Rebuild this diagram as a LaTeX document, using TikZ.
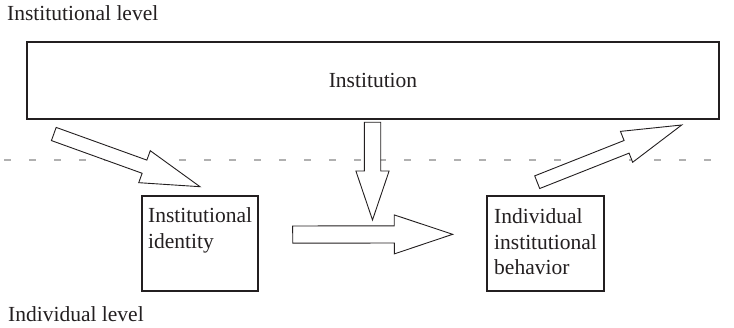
\documentclass[tikz,border=0pt]{standalone}
\usepackage{fontspec}
\setmainfont{Liberation Serif}
\usetikzlibrary{calc}
\definecolor{ink}{HTML}{231F20}
\definecolor{dashgray}{HTML}{B0B0B0}
\tikzset{
  boxstyle/.style={draw=ink, line width=1.1pt, fill=white, inner sep=0pt},
  txt/.style={text=ink, inner sep=0pt, font=\fontsize{21.5}{25.5}\selectfont},
  blockarrowstyle/.style={draw=ink, line width=0.9pt, fill=white, line join=miter},
  levelline/.style={draw=dashgray, line width=1.2pt, dash pattern=on 7pt off 18pt}
}
\newcommand\bkarrow[5]{%
  \coordinate (bkH) at ($(#2)!#5!(#1)$);
  \draw[blockarrowstyle] ($(#1)!#3!90:(#2)$) -- ($(bkH)!#3!90:(#2)$) -- ($(bkH)!#4!90:(#2)$) -- (#2) -- ($(bkH)!#4!-90:(#2)$) -- ($(bkH)!#3!-90:(#2)$) -- ($(#1)!#3!-90:(#2)$) -- cycle;}
\begin{document}
\begin{tikzpicture}[x=1pt,y=-1pt]
\useasboundingbox (0,0) rectangle (734,328);
% level labels
\node[txt, anchor=base west] (toplabel) at (7,21) {Institutional level};
\node[txt, anchor=base west] (botlabel) at (8,322) {Individual level};
% dashed level separator
\coordinate (dl) at (4,160);
\coordinate (dr) at (717,160);
\path[levelline] (dl) -- (dr);
% boxes
\node[boxstyle, txt, minimum width=692pt, minimum height=77pt] (inst) at (373,80.5) {Institution};
\node[boxstyle, minimum width=116pt, minimum height=95pt] (ident) at (200,243.5) {};
\node[boxstyle, minimum width=117pt, minimum height=95pt] (behav) at (545.5,243.5) {};
\node[txt, anchor=north west, align=left] (identtext) at (148,207.7) {Institutional\\identity};
\node[txt, anchor=north west, align=left] (behavtext) at (494,208.4) {Individual\\institutional\\behavior};
% arrow end points
\coordinate (a1t) at (53.8,134);
\coordinate (a1p) at (200,186.7);
\coordinate (a2t) at (372.5,122.3);
\coordinate (a2p) at (372.5,220);
\coordinate (a3t) at (292.7,234.6);
\coordinate (a3p) at (452.7,234.3);
\coordinate (a4t) at (537.2,182.2);
\coordinate (a4p) at (681.7,125);
\bkarrow{a1t}{a1p}{7pt}{17pt}{59pt}
\bkarrow{a2t}{a2p}{8.2pt}{16.6pt}{49pt}
\bkarrow{a3t}{a3p}{8.6pt}{19.5pt}{58.4pt}
\bkarrow{a4t}{a4p}{6.8pt}{16.6pt}{59.3pt}
\end{tikzpicture}
\end{document}
